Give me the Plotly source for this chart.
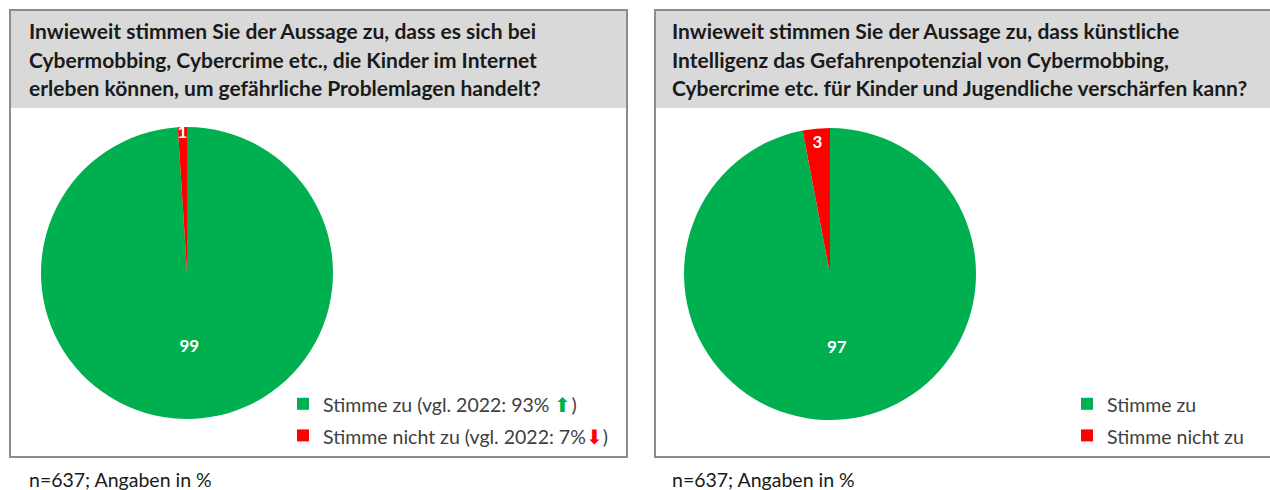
import plotly.graph_objects as go

W, H = 1270, 490

# ---- data ----
categories = ["Stimme zu", "Stimme nicht zu"]
values_left = [99, 1]
values_right = [97, 3]
legend_left = [
    "Stimme zu (vgl. 2022: 93% <span style='color:#00b050'>⬆</span>)",
    "Stimme nicht zu (vgl. 2022: 7%<span style='color:#ff0000'>⬇</span>)",
]
legend_right = ["Stimme zu", "Stimme nicht zu"]
colors = ["#00b050", "#ff0000"]
title_left = [
    "Inwieweit stimmen Sie der Aussage zu, dass es sich bei",
    "Cybermobbing, Cybercrime etc., die Kinder im Internet",
    "erleben können, um gefährliche Problemlagen handelt?",
]
title_right = [
    "Inwieweit stimmen Sie der Aussage zu, dass künstliche",
    "Intelligenz das Gefahrenpotenzial von Cybermobbing,",
    "Cybercrime etc. für Kinder und Jugendliche verschärfen kann?",
]
footnote = "n=637; Angaben in %"

FONT = "Lato"


def px(x):
    return x / W


def py(y):
    return 1 - y / H


def wrap(lbls):
    return ["<span style='font-size:19.5px'>%s</span>" % l for l in lbls]


fig = go.Figure()

fig.add_trace(go.Pie(
    labels=wrap(legend_left), values=values_left, sort=False, direction="clockwise",
    rotation=0, marker=dict(colors=colors, line=dict(width=0)),
    textinfo="value", textposition="inside", insidetextorientation="horizontal",
    textfont=dict(color="white", size=17, family=FONT, weight="bold"),
    domain=dict(x=[px(41), px(333)], y=[py(419), py(127)]),
    legend="legend", hoverinfo="skip",
))
fig.add_trace(go.Pie(
    labels=wrap(legend_right), values=values_right, sort=False, direction="clockwise",
    rotation=0, marker=dict(colors=colors, line=dict(width=0)),
    textinfo="value", textposition="inside", insidetextorientation="horizontal",
    textfont=dict(color="white", size=17, family=FONT, weight="bold"),
    domain=dict(x=[px(684), px(976)], y=[py(420), py(128)]),
    legend="legend2", hoverinfo="skip",
))

shapes = []
for x0, x1 in [(10, 627), (655, 1275)]:
    shapes.append(dict(type="rect", xref="paper", yref="paper",
                       x0=px(x0), x1=px(x1), y0=py(108), y1=py(10),
                       fillcolor="#d9d9d9", line=dict(width=0), layer="below"))
    shapes.append(dict(type="rect", xref="paper", yref="paper",
                       x0=px(x0), x1=px(x1), y0=py(457), y1=py(10),
                       fillcolor="rgba(0,0,0,0)", line=dict(color="#8c8c8c", width=2)))

annotations = []
for lines, x in [(title_left, 27), (title_right, 670)]:
    for i, t in enumerate(lines):
        annotations.append(dict(text="<b>%s</b>" % t, x=px(x), y=py(31 + i * 28.5),
                                xref="paper", yref="paper", xanchor="left", yanchor="middle",
                                showarrow=False, font=dict(family=FONT, size=21, color="#1a1a1a")))
for x in [27, 670]:
    annotations.append(dict(text=footnote, x=px(x), y=py(479), xref="paper", yref="paper",
                            xanchor="left", yanchor="middle", showarrow=False,
                            font=dict(family=FONT, size=19.5, color="#1a1a1a")))

legend_style = dict(font=dict(family=FONT, size=22, color="#404040"),
                    bgcolor="rgba(0,0,0,0)", borderwidth=0,
                    xanchor="left", yanchor="top", traceorder="normal")

fig.update_layout(
    width=W, height=H, margin=dict(l=0, r=0, t=0, b=0),
    paper_bgcolor="white", plot_bgcolor="white",
    shapes=shapes, annotations=annotations,
    uniformtext=dict(minsize=17, mode="show"),
    legend=dict(x=px(283), y=py(383), **legend_style),
    legend2=dict(x=px(1067), y=py(383), **legend_style),
    showlegend=True,
)

fig.write_html("out.html", config={"displayModeBar": False},
               post_script="document.body.style.margin='0px';")
